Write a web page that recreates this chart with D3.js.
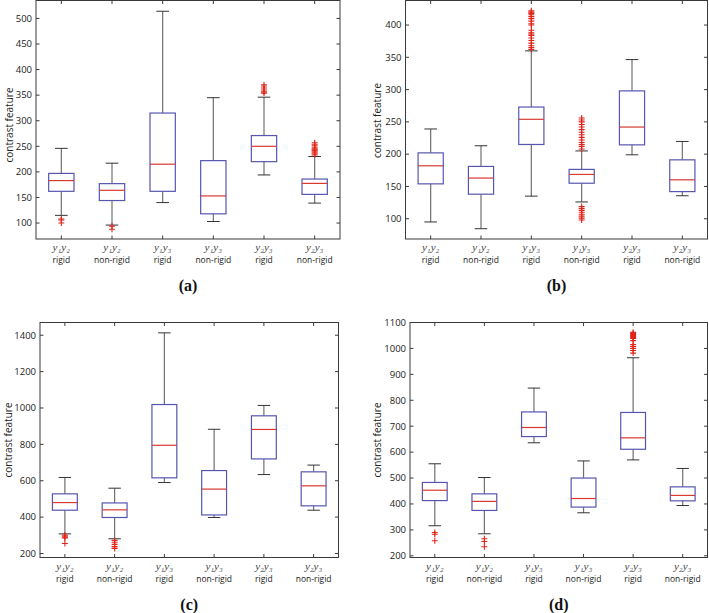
<!DOCTYPE html>
<html><head><meta charset="utf-8">
<script src="https://cdn.jsdelivr.net/npm/d3@7"></script>
<style>html,body{margin:0;padding:0;background:#fff;}svg{display:block;}</style>
</head><body>
<svg id="chart" width="709" height="613"></svg>
<script>
// ---- data ----
const catPairs = ["y₁y₂","y₁y₂","y₁y₃","y₁y₃","y₂y₃","y₂y₃"];
const catTypes = ["rigid","non-rigid","rigid","non-rigid","rigid","non-rigid"];

// [lower whisker, Q1, median, Q3, upper whisker]
const statsA = [[115,162,183,197,246],[96,144,164,177,217],[140,162,215,315,514],[103,118,153,222,345],[194,220,250,271,346],[139,156,177.5,186,230]];
const outA = [[108,106,100],[94,88],[],[],[354,356,358,362,366,370],[233,235,237,239,241,243,245,248,251,254,257]];
const ticksA = [100,150,200,250,300,350,400,450,500];

const statsB = [[95,154,182,202,239],[84.5,138,163,181,213],[135,215,254,273,360],[126,155,168.6,176.4,205],[199,214.4,242,298,346.5],[135.6,142,160.3,191.2,219.7]];
const outB = [[],[],[362,365,368,372,376,380,384,386,388,392,400,402,406,410,413,416,418,420,422],[208,212,215,218,222,226,230,234,238,242,246,250,253,256,98,101,104,107,110,113,116,119],[],[]];
const ticksB = [100,150,200,250,300,350,400];

const statsC = [[308,438,480,528,618],[281,398,440,478,559],[590,616,795,1019,1413],[398,412,554,656,883],[634,720,882,957,1014],[438,462,572,649,686]];
const outC = [[302,296,290,285,255],[272,262,250,238,228],[],[],[],[]];
const ticksC = [200,400,600,800,1000,1200,1400];

const statsD = [[316,413,453,483,555],[285,375,410,439,502],[636,660,695,755,847],[366,388,421,500,566],[570,611,655,753,964],[394,412,433,466,537]];
const outD = [[290,283,258],[266,255,235],[],[],[982,992,1000,1008,1015,1030,1038,1042,1046,1050,1054,1058,1062],[]];
const ticksD = [200,300,400,500,600,700,800,900,1000,1100];

const panelLabels = ["(a)","(b)","(c)","(d)"];
const yTitle = "contrast feature";

// ---- layout ----
const panels = [
  {stats:statsA, outs:outA, ticks:ticksA, dom:[68.8,535], l:36, r:340, t:0.5, b:239, tx:12.5, ty:125, lab:panelLabels[0]},
  {stats:statsB, outs:outB, ticks:ticksB, dom:[68.6,438], l:405.5, r:707.5, t:0.5, b:239, tx:381, ty:120.5, lab:panelLabels[1]},
  {stats:statsC, outs:outC, ticks:ticksC, dom:[178,1470], l:40, r:338.5, t:322.5, b:557.5, tx:11.5, ty:440, lab:panelLabels[2]},
  {stats:statsD, outs:outD, ticks:ticksD, dom:[193.5,1100], l:410, r:707.5, t:322.5, b:557.5, tx:381, ty:440, lab:panelLabels[3]}
];

const svg = d3.select("#chart");
const sans = "Open Sans, DejaVu Sans, sans-serif";
const serif = "Liberation Serif, Times New Roman, DejaVu Serif, serif";
const boxCol = "#5656b0", medCol = "#d83a30", whCol = "#707070", outCol = "#e0261c", frameCol = "#3a3a3a";

panels.forEach(p => {
  const g = svg.append("g");
  const x = d3.scaleLinear().domain([0.5, 6.5]).range([p.l, p.r]);
  const y = d3.scaleLinear().domain(p.dom).range([p.b, p.t]);
  const cats = d3.range(1, 7);

  const tl = 3.5;
  g.selectAll(".yt").data(p.ticks).join("path")
    .attr("d", d => `M${p.l},${y(d)}h${tl}M${p.r},${y(d)}h${-tl}`)
    .attr("stroke", frameCol).attr("stroke-width", 1);
  g.selectAll(".xt").data(cats).join("path")
    .attr("d", d => `M${x(d)},${p.b}v${-tl}M${x(d)},${p.t}v${tl}`)
    .attr("stroke", frameCol).attr("stroke-width", 1);

  g.selectAll(".yl").data(p.ticks).join("text")
    .attr("x", p.l - 4).attr("y", d => y(d)).attr("dy", "0.35em")
    .attr("text-anchor", "end").attr("font-family", sans).attr("font-size", 9.5)
    .attr("fill", "#222").text(d => d);

  g.append("text").attr("transform", `translate(${p.tx},${p.ty}) rotate(-90)`)
    .attr("text-anchor", "middle").attr("font-family", sans).attr("font-size", 10)
    .attr("fill", "#222").text(yTitle);

  cats.forEach((c, i) => {
    g.append("text").attr("x", x(c)).attr("y", p.b + 12)
      .attr("text-anchor", "middle").attr("font-family", serif).attr("font-style", "italic")
      .attr("font-size", 11).attr("fill", "#444").text(catPairs[i]);
    g.append("text").attr("x", x(c)).attr("y", p.b + 24)
      .attr("text-anchor", "middle").attr("font-family", sans).attr("font-size", 8.5)
      .attr("fill", "#222").text(catTypes[i]);
  });

  g.append("text").attr("x", (p.l + p.r) / 2).attr("y", p.b + 52)
    .attr("text-anchor", "middle").attr("font-family", serif).attr("font-weight", "bold")
    .attr("font-size", 16).attr("fill", "#111").text(p.lab);

  const bw = x(0.75) - x(0.5);
  const cw = x(0.625) - x(0.5);
  p.stats.forEach((s, i) => {
    const cx = x(i + 1);
    const [lw, q1, md, q3, uw] = s;
    g.append("line").attr("x1", cx).attr("x2", cx).attr("y1", y(q3)).attr("y2", y(uw))
      .attr("stroke", whCol).attr("stroke-width", 1.2);
    g.append("line").attr("x1", cx).attr("x2", cx).attr("y1", y(q1)).attr("y2", y(lw))
      .attr("stroke", whCol).attr("stroke-width", 1.2);
    g.append("line").attr("x1", cx - cw).attr("x2", cx + cw).attr("y1", y(uw)).attr("y2", y(uw))
      .attr("stroke", "#333").attr("stroke-width", 1);
    g.append("line").attr("x1", cx - cw).attr("x2", cx + cw).attr("y1", y(lw)).attr("y2", y(lw))
      .attr("stroke", "#333").attr("stroke-width", 1);
    g.append("rect").attr("x", cx - bw).attr("width", 2 * bw)
      .attr("y", y(q3)).attr("height", y(q1) - y(q3))
      .attr("fill", "none").attr("stroke", boxCol).attr("stroke-width", 1.2);
    g.append("line").attr("x1", cx - bw).attr("x2", cx + bw).attr("y1", y(md)).attr("y2", y(md))
      .attr("stroke", medCol).attr("stroke-width", 1.2);
    g.selectAll(null).data(p.outs[i]).join("path")
      .attr("d", d => `M${cx - 3},${y(d)}h6M${cx},${y(d) - 3}v6`)
      .attr("stroke", outCol).attr("stroke-width", 1.1).attr("fill", "none");
  });

  g.append("rect").attr("x", p.l).attr("y", p.t).attr("width", p.r - p.l).attr("height", p.b - p.t)
    .attr("fill", "none").attr("stroke", frameCol).attr("stroke-width", 1);
});
</script>
</body></html>
